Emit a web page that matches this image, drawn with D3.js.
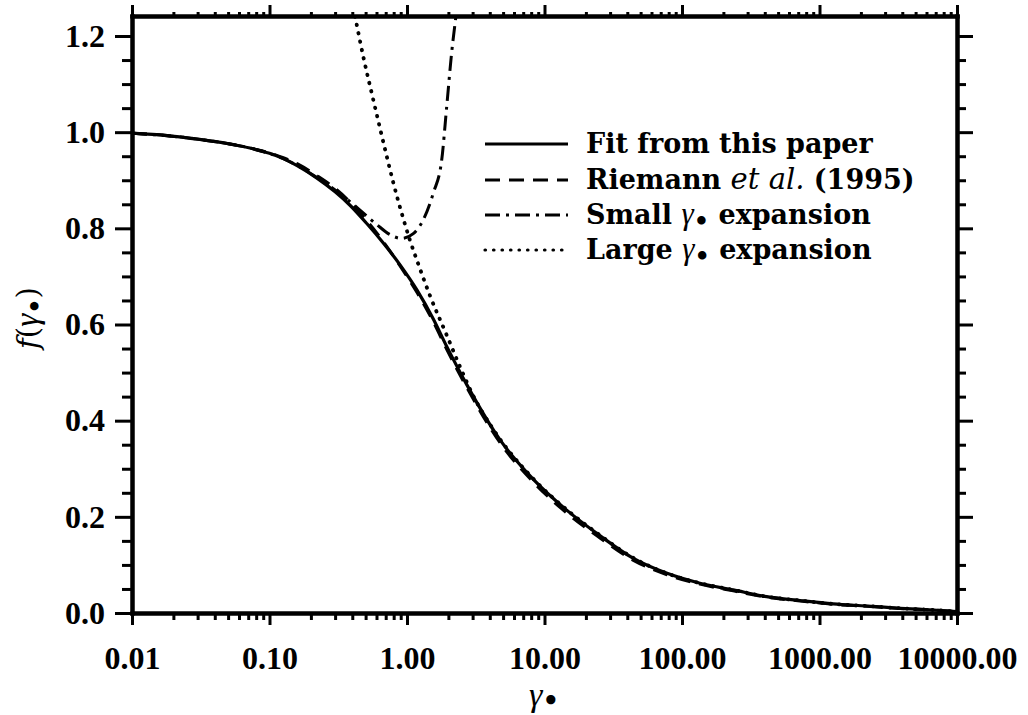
<!DOCTYPE html>
<html>
<head>
<meta charset="utf-8">
<script src="https://cdn.jsdelivr.net/npm/d3@7"></script>
<style>
  body { margin: 0; background: #fff; }
  .tick text { font-family: "Liberation Serif", serif; font-weight: bold; font-size: 32px; fill: #000; }
  .legend text { font-family: "DejaVu Serif", serif; font-weight: bold; font-size: 27px; }
  .gamma { font-family: "Liberation Serif", serif; font-style: italic; font-weight: normal; }
</style>
</head>
<body>
<div id="chart"></div>
<script>
const width = 1028;
const height = 715;

// values
const fitGamma = [0.01, 0.018, 0.031, 0.05, 0.072, 0.1, 0.126, 0.16, 0.22, 0.3, 0.385, 0.51, 0.67, 0.89, 1.18, 1.55, 1.94, 2.72, 4.75, 8.3, 14.5, 25, 44, 77, 135, 236, 413, 721, 1260, 2200, 3850, 6730, 10000];
const fitValues = [0.998, 0.993, 0.985, 0.976, 0.967, 0.956, 0.945, 0.930, 0.905, 0.876, 0.848, 0.810, 0.770, 0.724, 0.672, 0.612, 0.555, 0.475, 0.360, 0.278, 0.214, 0.162, 0.114, 0.083, 0.062, 0.048, 0.034, 0.026, 0.019, 0.0146, 0.0098, 0.0062, 0.003];
const riemannValues = [0.998, 0.993, 0.985, 0.976, 0.967, 0.957, 0.947, 0.934, 0.910, 0.883, 0.855, 0.816, 0.773, 0.722, 0.667, 0.606, 0.549, 0.469, 0.354, 0.272, 0.208, 0.157, 0.110, 0.080, 0.060, 0.046, 0.033, 0.025, 0.018, 0.014, 0.0094, 0.006, 0.003];

const smallGamma = [0.01, 0.031, 0.072, 0.126, 0.22, 0.326, 0.455, 0.602, 0.752, 0.915, 1.111, 1.314, 1.552, 1.788, 1.944, 2.11, 2.27];
const smallValues = [0.998, 0.985, 0.967, 0.945, 0.906, 0.872, 0.838, 0.808, 0.787, 0.779, 0.789, 0.818, 0.873, 0.942, 1.053, 1.164, 1.241];

const largeGamma = [0.419, 0.481, 0.569, 0.712, 0.795, 0.94, 1.051, 1.176, 1.469, 1.944, 2.43, 3.03, 4.24, 8.3, 14.5, 25, 44, 77, 135, 236, 413, 721, 1260, 2200, 3850, 6730, 10000];
const largeValues = [1.241, 1.157, 1.067, 0.950, 0.895, 0.820, 0.775, 0.735, 0.660, 0.578, 0.512, 0.452, 0.382, 0.279, 0.215, 0.163, 0.115, 0.083, 0.062, 0.048, 0.034, 0.026, 0.019, 0.0146, 0.0098, 0.0062, 0.003];

const xMajor = [0.01, 0.1, 1, 10, 100, 1000, 10000];
const yMajor = [0, 0.2, 0.4, 0.6, 0.8, 1.0, 1.2];
const yMinor = d3.range(0, 1.21, 0.05).filter(v => Math.round(v * 100) % 20 !== 0);
const xMinor = [];
for (let i = 0; i < xMajor.length - 1; i++) {
    for (let k = 2; k <= 9; k++) xMinor.push(xMajor[i] * k);
}

const legendLabels = ["Fit from this paper", "Riemann et al. (1995)", "Small γ expansion", "Large γ expansion"];
const legendDash = [null, "15,9", "15,6,3,6", "0.5,8"];

const area = { left: 132, right: 957, top: 16, bottom: 613 };

const svg = d3.select("#chart").append("svg")
    .attr("width", width)
    .attr("height", height);

const xScale = d3.scaleLog().domain([0.01, 10000]).range([area.left, area.right]);
const yScale = d3.scaleLinear().domain([0, 1.2416]).range([area.bottom, area.top]);

svg.append("clipPath").attr("id", "plot-clip")
    .append("rect")
    .attr("x", area.left).attr("y", area.top)
    .attr("width", area.right - area.left).attr("height", area.bottom - area.top);

// axes: majors with labels, minors as separate axes
function drawAxis(axis, transform, cls) {
    const g = svg.append("g").attr("class", cls).attr("transform", transform).call(axis);
    g.select(".domain").attr("stroke", "#000").attr("stroke-width", 4).attr("stroke-linecap", "square");
    g.selectAll(".tick line").attr("stroke", "#000").attr("stroke-width", 3);
    return g;
}

drawAxis(d3.axisBottom(xScale).tickValues(xMinor).tickSize(7).tickSizeOuter(0).tickFormat(""),
    `translate(0,${area.bottom})`, "x-minor");
drawAxis(d3.axisBottom(xScale).tickValues(xMajor).tickSize(12).tickSizeOuter(0).tickPadding(21)
    .tickFormat(d3.format(".2f")), `translate(0,${area.bottom})`, "x-axis");

drawAxis(d3.axisTop(xScale).tickValues(xMinor).tickSize(4).tickSizeOuter(0).tickFormat(""),
    `translate(0,${area.top})`, "x-top-minor");
drawAxis(d3.axisTop(xScale).tickValues(xMajor).tickSize(11).tickSizeOuter(0).tickFormat(""),
    `translate(0,${area.top})`, "x-top");

drawAxis(d3.axisLeft(yScale).tickValues(yMinor).tickSize(10).tickSizeOuter(0).tickFormat(""),
    `translate(${area.left},0)`, "y-minor");
drawAxis(d3.axisLeft(yScale).tickValues(yMajor).tickSize(17).tickSizeOuter(0).tickPadding(10)
    .tickFormat(d3.format(".1f")), `translate(${area.left},0)`, "y-axis");

drawAxis(d3.axisRight(yScale).tickValues(yMinor).tickSize(9).tickSizeOuter(0).tickFormat(""),
    `translate(${area.right},0)`, "y-right-minor");
drawAxis(d3.axisRight(yScale).tickValues(yMajor).tickSize(16).tickSizeOuter(0).tickFormat(""),
    `translate(${area.right},0)`, "y-right");

// curves
const line = d3.line()
    .x(d => xScale(d[0]))
    .y(d => yScale(d[1]))
    .curve(d3.curveMonotoneX);

const series = [
    { gamma: fitGamma, values: fitValues, dash: null },
    { gamma: fitGamma, values: riemannValues, dash: legendDash[1] },
    { gamma: smallGamma, values: smallValues, dash: legendDash[2] },
    { gamma: largeGamma, values: largeValues, dash: legendDash[3] },
];

const curves = svg.append("g").attr("class", "curves").attr("clip-path", "url(#plot-clip)");
curves.selectAll("path")
    .data(series)
    .join("path")
    .attr("d", s => line(d3.zip(s.gamma, s.values)))
    .attr("fill", "none")
    .attr("stroke", "#000")
    .attr("stroke-width", (s, i) => i === 3 ? 3.8 : (s.dash ? 3 : 3.2))
    .attr("stroke-linecap", (s, i) => i === 3 ? "round" : "butt")
    .attr("stroke-dasharray", s => s.dash);

// legend
const legend = svg.append("g").attr("class", "legend");
const rowY = [144, 180, 215, 250];

legend.selectAll("line")
    .data(legendDash)
    .join("line")
    .attr("x1", 485).attr("x2", 568)
    .attr("y1", (d, i) => rowY[i]).attr("y2", (d, i) => rowY[i])
    .attr("stroke", "#000")
    .attr("stroke-width", (d, i) => i === 3 ? 3.2 : 3)
    .attr("stroke-linecap", (d, i) => i === 3 ? "round" : "butt")
    .attr("stroke-dasharray", d => d);

legendLabels.forEach((label, i) => {
    const t = legend.append("text").attr("x", 586).attr("y", rowY[i] + 9);
    if (i === 1) {
        t.append("tspan").text("Riemann ");
        t.append("tspan").attr("font-style", "italic").attr("font-weight", "normal").attr("font-size", "29px").text("et al.");
        t.append("tspan").text(" (1995)");
    } else if (i >= 2) {
        const word = label.split(" ")[0];
        t.append("tspan").text(word + " ");
        t.append("tspan").attr("class", "gamma").attr("font-size", "31px").text("γ");
        t.append("tspan").attr("font-size", "24px").attr("dy", 5).text("•");
        t.append("tspan").attr("dy", -5).text(" expansion");
    } else {
        t.text(label);
    }
});

// axis titles
const yTitle = svg.append("text")
    .attr("transform", "translate(38,318) rotate(-90)")
    .attr("text-anchor", "middle")
    .attr("font-family", "DejaVu Serif, serif")
    .attr("font-size", "29px");
yTitle.append("tspan").attr("font-style", "italic").text("f");
yTitle.append("tspan").text("(");
yTitle.append("tspan").attr("class", "gamma").attr("font-size", "33px").text("γ");
yTitle.append("tspan").attr("font-size", "24px").attr("font-weight", "bold").attr("dy", 5).text("•");
yTitle.append("tspan").attr("dy", -5).text(")");

const xTitle = svg.append("text")
    .attr("x", 544).attr("y", 706)
    .attr("text-anchor", "middle")
    .attr("font-family", "DejaVu Serif, serif")
    .attr("font-size", "29px");
xTitle.append("tspan").attr("class", "gamma").attr("font-size", "34px").text("γ");
xTitle.append("tspan").attr("font-size", "26px").attr("font-weight", "bold").attr("dy", 3).text("•");
</script>
</body>
</html>
